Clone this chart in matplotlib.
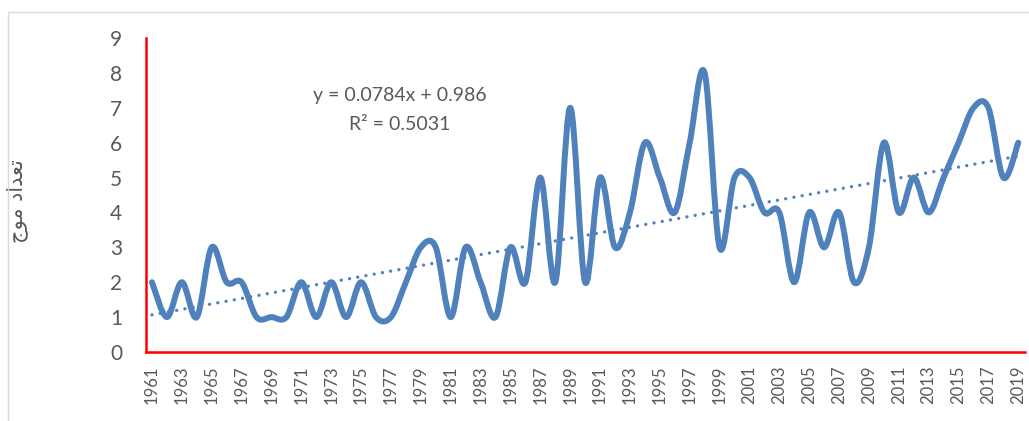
import matplotlib.pyplot as plt
import numpy as np
from matplotlib.path import Path
from matplotlib.patches import PathPatch, Rectangle

years = list(range(1961, 2020))
counts = [2, 1, 2, 1, 3, 2, 2, 1, 1, 1,
          2, 1, 2, 1, 2, 1, 1, 2, 3, 3,
          1, 3, 2, 1, 3, 2, 5, 2, 7, 2,
          5, 3, 4, 6, 5, 4, 6, 8, 3, 5,
          5, 4, 4, 2, 4, 3, 4, 2, 3, 6,
          4, 5, 4, 5, 6, 7, 7, 5, 6]
tick_years = years[::2]
y_ticks = list(range(0, 10))

line_blue = '#4F81BD'
text_grey = '#595959'

plt.rcParams['font.family'] = ['Lato', 'DejaVu Sans']

fig = plt.figure(figsize=(10.29, 4.21), dpi=100)
ax = fig.add_axes([146 / 1029, 1 - 352 / 421, 879 / 1029, 314 / 421])

# chart area border (only top/left visible in the crop)
fig.patches.append(Rectangle((8 / 1029, -0.1), 1.2, 1 - 12 / 421 + 0.1,
                             transform=fig.transFigure, fill=False,
                             edgecolor='#d9d9d9', lw=1))


def smooth_path(xs, ys):
    # Excel style smoothed line: bezier through every point
    pts = np.column_stack([xs, ys]).astype(float)
    verts = [pts[0]]
    codes = [Path.MOVETO]
    n = len(pts)
    for i in range(n - 1):
        p0 = pts[i - 1] if i > 0 else pts[i]
        p1 = pts[i]
        p2 = pts[i + 1]
        p3 = pts[i + 2] if i + 2 < n else pts[i + 1]
        c1 = p1 + (p2 - p0) / 6
        c2 = p2 - (p3 - p1) / 6
        verts += [c1, c2, p2]
        codes += [Path.CURVE4] * 3
    return Path(verts, codes)


ax.add_patch(PathPatch(smooth_path(years, counts), fill=False,
                       edgecolor=line_blue, lw=4.3,
                       capstyle='round', joinstyle='round', zorder=3))

# linear trend line, round dots
idx = np.arange(1, len(counts) + 1)
slope, icpt = np.polyfit(idx, counts, 1)
ax.plot(years, slope * idx + icpt, color=line_blue, lw=2.4,
        linestyle=(0, (0.01, 2.5)), dash_capstyle='round', zorder=2)

ax.text(400, 421 - 96, 'y = 0.0784x + 0.986', transform=None, fontsize=14,
        color=text_grey, ha='center', va='center')
ax.text(400, 421 - 125, 'R² = 0.5031', transform=None, fontsize=14,
        color=text_grey, ha='center', va='center')

ax.set_xlim(1960.6, 2019.45)
ax.set_ylim(0, 9)
ax.set_xticks(tick_years)
ax.set_xticklabels([str(y) for y in tick_years], rotation=90)
ax.set_yticks(y_ticks)
ax.tick_params(axis='x', length=0, pad=10, labelsize=12, labelcolor=text_grey)
ax.tick_params(axis='y', length=0, pad=17, labelsize=15, labelcolor=text_grey)

for s in ['top', 'right']:
    ax.spines[s].set_visible(False)
for s in ['left', 'bottom']:
    ax.spines[s].set_color('red')
    ax.spines[s].set_linewidth(1.8)

# Arabic label in presentation forms (visual order) since matplotlib does no shaping
ax.set_ylabel('\uFE9D\uFEEE\uFEE3 \uFEA9\uFE8D\uFEAA\uFECC\uFE97',
              fontsize=15, color=text_grey, family=['DejaVu Sans'])
ax.yaxis.set_label_coords(-0.134, 0.48)

fig.savefig('out.png', dpi=100)
